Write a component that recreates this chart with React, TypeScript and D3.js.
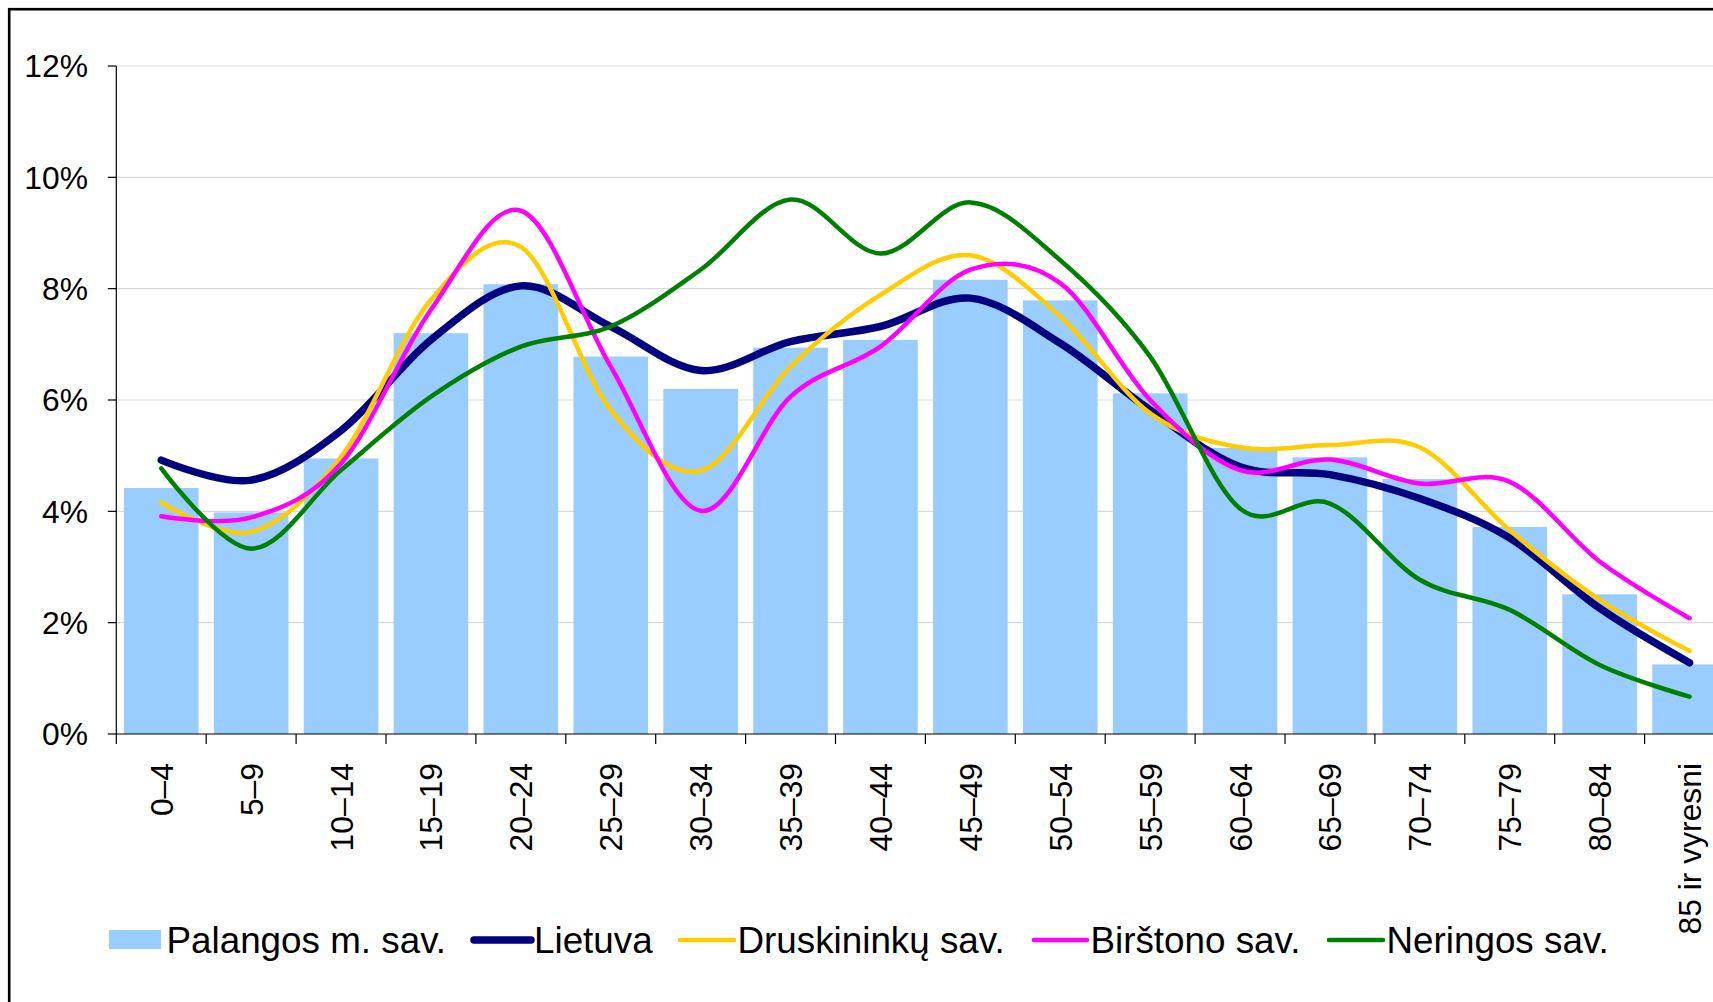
import React from "react";
import * as d3 from "d3";

const categories = ["0–4","5–9","10–14","15–19","20–24","25–29","30–34","35–39","40–44","45–49","50–54","55–59","60–64","65–69","70–74","75–79","80–84","85 ir vyresni"];
const palangos = [4.42,3.98,4.95,7.2,8.08,6.78,6.2,6.94,7.08,8.16,7.79,6.12,5.14,4.97,4.58,3.72,2.51,1.25];
const lietuva = [4.92,4.56,5.45,7.08,8.05,7.32,6.53,7.05,7.32,7.83,7.02,5.82,4.8,4.66,4.23,3.52,2.26,1.28];
const druskininku = [4.16,3.63,4.98,7.8,8.75,5.82,4.73,6.6,7.89,8.6,7.5,5.76,5.15,5.19,5.15,3.66,2.41,1.49];
const birstono = [3.91,3.89,4.86,7.62,9.4,6.6,4.01,6.06,6.96,8.34,8.1,6.0,4.74,4.93,4.5,4.53,3.1,2.08];
const neringos = [4.77,3.33,4.74,6.06,6.96,7.32,8.34,9.6,8.63,9.55,8.51,6.78,4.05,4.14,2.77,2.23,1.24,0.67];
const yTicks = [0, 2, 4, 6, 8, 10, 12];

const barName = "Palangos m. sav.";
const lineSeries = [
  { name: "Lietuva", values: lietuva, color: "#000080", width: 7.5 },
  { name: "Druskininkų sav.", values: druskininku, color: "#FFCC00", width: 4.5 },
  { name: "Birštono sav.", values: birstono, color: "#FF00FF", width: 4.5 },
  { name: "Neringos sav.", values: neringos, color: "#008000", width: 4.5 },
];

const W = 1713;
const H = 1002;
const left = 116.3;
const top = 66;
const bottom = 734;
const step = 89.9;
const FONT = "'Liberation Sans', Arial, Helvetica, sans-serif";

export default function App() {
  const x = d3
    .scaleBand<string>()
    .domain(categories)
    .range([left, left + step * categories.length])
    .paddingInner(0.17)
    .paddingOuter(0.085);
  const y = d3.scaleLinear().domain([0, 12]).range([bottom, top]);
  const cx = (i: number) => (x(categories[i]) as number) + x.bandwidth() / 2;
  const line = d3
    .line<number>()
    .x((_, i) => cx(i))
    .y((d) => y(d))
    .curve(d3.curveCardinal.tension(0));

  const boundaries = d3.range(categories.length + 1).map((i) => left + i * step);

  const legendLines = [
    { x1: 474, x2: 531, tx: 534 },
    { x1: 680, x2: 734, tx: 737.5 },
    { x1: 1034, x2: 1087, tx: 1090.5 },
    { x1: 1329, x2: 1383, tx: 1386.5 },
  ];

  return (
    <div style={{ position: "fixed", left: 0, top: 0, width: W, height: H, overflow: "hidden", background: "#fff" }}>
      <svg width={W} height={H} style={{ display: "block" }} fontFamily={FONT}>
        <rect x={0} y={0} width={W} height={H} fill="#fff" />
        <rect x={9.2} y={9.2} width={1900} height={1200} fill="none" stroke="#000" strokeWidth={2.6} />
        {yTicks.filter((t) => t > 0).map((t) => (
          <line key={"g" + t} x1={left} x2={W} y1={y(t)} y2={y(t)} stroke="#d9d9d9" strokeWidth={1.2} />
        ))}
        {palangos.map((v, i) => (
          <rect
            key={"b" + i}
            x={x(categories[i]) as number}
            y={y(v)}
            width={x.bandwidth()}
            height={bottom - y(v)}
            fill="#99CCFF"
          />
        ))}
        <line x1={left} x2={left} y1={top} y2={bottom} stroke="#000" strokeWidth={1.2} />
        <line x1={left} x2={W} y1={bottom} y2={bottom} stroke="#000" strokeWidth={1.2} />
        {yTicks.map((t) => (
          <g key={"yt" + t}>
            <line x1={left - 8.5} x2={left} y1={y(t)} y2={y(t)} stroke="#000" strokeWidth={1.2} />
            <text x={88} y={y(t)} dy="0.36em" textAnchor="end" fontSize={31.8} fill="#000">
              {t + "%"}
            </text>
          </g>
        ))}
        {boundaries.map((b, i) => (
          <line key={"xt" + i} x1={b} x2={b} y1={bottom} y2={bottom + 10} stroke="#000" strokeWidth={1.2} />
        ))}
        {categories.map((c, i) => (
          <text
            key={"xl" + i}
            transform={`translate(${cx(i)},763) rotate(-90)`}
            dy="0.36em"
            textAnchor="end"
            fontSize={31.8}
            fill="#000"
          >
            {c}
          </text>
        ))}
        {lineSeries.map((s) => (
          <path
            key={s.name}
            d={line(s.values) as string}
            fill="none"
            stroke={s.color}
            strokeWidth={s.width}
            strokeLinecap="round"
            strokeLinejoin="round"
          />
        ))}
        <rect x={109} y={930} width={52} height={19} fill="#99CCFF" />
        <text x={166.5} y={952.5} fontSize={36.8} fill="#000">{barName}</text>
        {lineSeries.map((s, i) => (
          <g key={"lg" + i}>
            <line
              x1={legendLines[i].x1}
              x2={legendLines[i].x2}
              y1={940}
              y2={940}
              stroke={s.color}
              strokeWidth={s.width}
              strokeLinecap="round"
            />
            <text x={legendLines[i].tx} y={952.5} fontSize={36.8} fill="#000">{s.name}</text>
          </g>
        ))}
      </svg>
    </div>
  );
}
